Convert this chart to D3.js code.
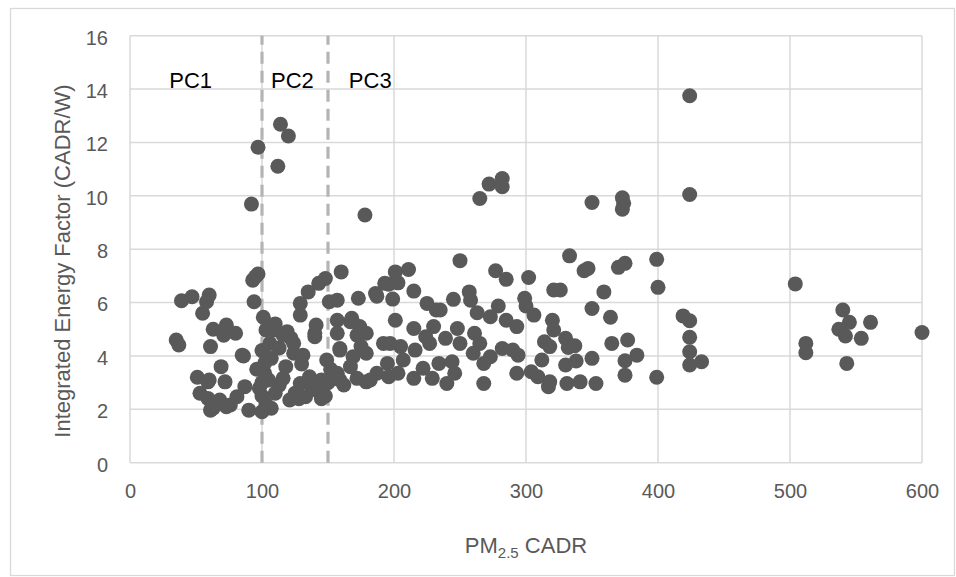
<!DOCTYPE html>
<html><head><meta charset="utf-8">
<script src="https://cdn.jsdelivr.net/npm/d3@7"></script>
<style>body{margin:0;background:#fff}svg{display:block}text{font-family:"Liberation Sans",Arial,sans-serif}</style>
</head><body><svg id="c" width="956" height="577"></svg>
<script>
const cadr = [504,540,545,561,537,542,554,512,512,543,600,
333,344,347,370,375,399,326,359,400,350,364,419,424,424,424,424,433,330,332,337,365,377,330,338,350,375,384,375,399,331,341,353,
265,272,282,282,350,373,374,373,424,424,97,114,120,112,92,178,
39,47,60,58,55,93,94,63,73,71,80,35,37,61,69,85,101,103,51,60,53,72,63,73,81,90,87,59,68,
95,97,119,122,124,131,86,59,102,107,116,129,136,145,61,76,100,107,121,133,143,129,129,135,143,148,160,141,140,151,157,157,159,167,173,172,175,179,186,193,192,187,179,157,162,172,149,106,102,98,
201,211,196,203,187,199,215,225,201,215,232,
250,277,285,302,321,245,257,258,235,263,279,273,285,293,299,300,306,320,321,230,248,261,224,197,227,239,205,250,265,282,290,216,314,318,195,207,222,234,244,260,268,273,294,312,196,203,215,229,240,246,268,293,304,309,318,317,
116,124,140,157,168,174,159,169,179,167,159,182,109,
100,100,103,110,113,118,125,138,148,150,152,145,105,96,100,113,110,130,128,140];
const ief = [6.7,5.72,5.26,5.26,5.0,4.75,4.66,4.47,4.12,3.72,4.88,
7.75,7.19,7.28,7.32,7.47,7.62,6.47,6.4,6.57,5.78,5.45,5.5,5.32,4.7,4.16,3.66,3.78,4.66,4.32,4.38,4.47,4.6,3.66,3.81,3.91,3.82,4.03,3.28,3.2,2.97,3.03,2.97,
9.9,10.44,10.65,10.34,9.75,9.93,9.72,9.5,13.75,10.05,11.82,12.68,12.24,11.11,9.69,9.28,
6.07,6.22,6.28,6.03,5.6,6.84,6.03,5.0,5.16,4.78,4.85,4.6,4.41,4.35,3.6,4.03,5.45,4.97,3.2,3.1,2.6,3.03,2.04,2.1,2.47,1.97,2.85,2.41,2.35,
6.97,7.07,4.91,4.66,4.1,4.03,4.0,3.03,3.35,3.91,3.16,2.97,3.22,3.1,1.97,2.16,1.91,2.04,2.35,2.47,2.66,5.97,5.53,6.4,6.72,6.9,7.15,5.16,4.72,6.03,6.09,5.34,4.28,5.28,6.16,4.78,4.35,4.85,6.34,6.72,4.47,3.35,3.03,3.35,2.91,3.16,3.85,4.47,3.72,2.79,
7.15,7.24,6.69,6.74,6.24,6.13,6.43,5.97,5.34,5.03,5.72,
7.57,7.19,6.87,6.94,6.47,6.12,6.4,6.09,5.72,5.62,5.87,5.47,5.34,5.1,6.16,5.87,5.53,5.34,4.97,5.1,5.03,4.85,4.72,4.47,4.47,4.66,4.35,4.47,4.47,4.28,4.22,4.22,4.53,4.35,3.72,3.85,3.54,3.72,3.78,4.1,3.72,3.97,4.03,3.85,3.22,3.35,3.16,3.16,2.97,3.35,2.97,3.35,3.41,3.22,3.03,2.85,
4.78,4.47,4.85,4.85,5.41,5.1,4.22,3.97,4.1,3.6,3.1,3.1,4.97,
2.5,3.0,2.2,2.6,2.9,3.6,2.6,2.8,2.5,3.0,3.5,2.4,3.1,3.5,4.2,4.3,5.2,3.7,2.4,3.0];
const xTicks = [0,100,200,300,400,500,600];
const yTicks = [0,2,4,6,8,10,12,14,16];
const dividers = [100,150];
const regions = [{label:"PC1", x:46},{label:"PC2", x:123},{label:"PC3", x:182}];

const svg = d3.select("#c");
svg.append("rect").attr("x",10.5).attr("y",8.5).attr("width",944).attr("height",567)
  .attr("fill","#fff").attr("stroke","#d9d9d9").attr("stroke-width",1.3);

const x = d3.scaleLinear().domain([0,600]).range([130,922]);
const y = d3.scaleLinear().domain([0,16]).range([462.7,35.7]);

const grid = svg.append("g");
grid.selectAll(".h").data(yTicks).join("line")
  .attr("x1",x(0)).attr("x2",x(600)).attr("y1",d=>y(d)).attr("y2",d=>y(d))
  .attr("stroke","#d9d9d9").attr("stroke-width",1.5);
grid.selectAll(".v").data(xTicks).join("line")
  .attr("y1",y(0)).attr("y2",y(16)).attr("x1",d=>x(d)).attr("x2",d=>x(d))
  .attr("stroke","#d9d9d9").attr("stroke-width",1.5);

const xAxis = svg.append("g").attr("transform",`translate(0,${y(0)})`)
  .call(d3.axisBottom(x).tickValues(xTicks).tickSize(0).tickPadding(21));
const yAxis = svg.append("g").attr("transform",`translate(${x(0)},0)`)
  .call(d3.axisLeft(y).tickValues(yTicks).tickSize(0).tickPadding(22));
[xAxis,yAxis].forEach(a=>{
  a.select(".domain").remove();
  a.selectAll("text").attr("font-size",20).attr("fill","#595959").attr("font-family","Liberation Sans, Arial, sans-serif");
});
yAxis.selectAll("text").attr("dy","0.42em");

svg.append("g").selectAll("line").data(dividers).join("line")
  .attr("x1",d=>x(d)).attr("x2",d=>x(d)).attr("y1",y(0)).attr("y2",y(16))
  .attr("stroke","#b4b4b4").attr("stroke-width",3.2).attr("stroke-dasharray","12,7");

svg.append("g").selectAll("text").data(regions).join("text")
  .attr("x",d=>x(d.x)).attr("y",88).attr("text-anchor","middle")
  .attr("font-size",22).attr("fill","#000").text(d=>d.label);

const pts = cadr.map((c,i)=>({c, v:ief[i]}));
svg.append("g").selectAll("circle").data(pts).join("circle")
  .attr("cx",d=>x(d.c)).attr("cy",d=>y(d.v)).attr("r",7.5).attr("fill","#595959");

svg.append("text").attr("transform",`translate(70,261) rotate(-90)`)
  .attr("text-anchor","middle").attr("font-size",22).attr("fill","#595959")
  .text("Integrated Energy Factor (CADR/W)");

const xt = svg.append("text").attr("x",(x(0)+x(600))/2).attr("y",553).attr("text-anchor","middle")
  .attr("font-size",22).attr("fill","#595959");
xt.append("tspan").text("PM");
xt.append("tspan").attr("font-size",15).attr("dy",5).text("2.5");
xt.append("tspan").attr("dy",-5).text(" CADR");
</script></body></html>
